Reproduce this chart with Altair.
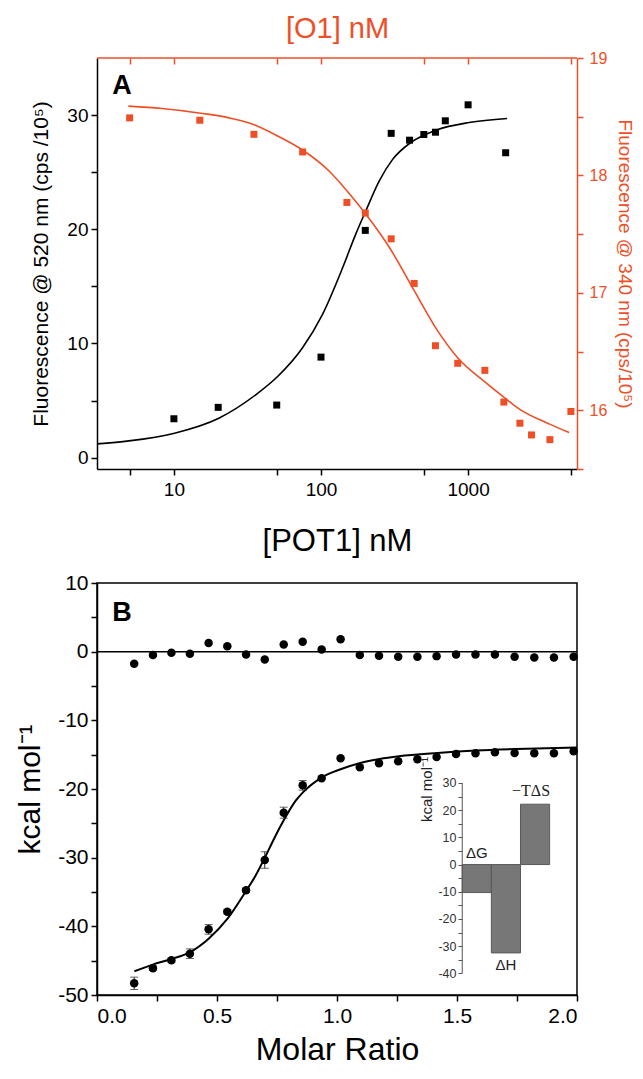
import altair as alt
import pandas as pd

RED = "#ef4f27"
BLACK = "#000000"
FONT = "Liberation Sans"

# ---------------- Panel A data ----------------
pot1_nM = [10, 20, 50, 100, 200, 300, 400, 500, 600, 700, 1000, 1800]
f520 = [3.4, 4.4, 4.6, 8.8, 19.9, 28.4, 27.8, 28.3, 28.5, 29.5, 30.9, 26.7]
fit520_x = [3.0, 4.94, 10.1, 20.2, 36, 50.7, 74.7, 102, 140, 172, 203, 248, 306, 408, 612, 1016, 1841]
fit520_y = [1.2, 1.46, 2.14, 3.45, 5.5, 7.1, 9.6, 12.5, 16.6, 19.55, 21.7, 24.2, 26.1, 27.6, 28.7, 29.35, 29.7]

o1_nM = [5, 15, 35, 75, 150, 200, 300, 430, 600, 850, 1300, 1750, 2250, 2700, 3600, 5000]
f340 = [18.49, 18.47, 18.35, 18.20, 17.77, 17.68, 17.46, 17.08, 16.55, 16.40, 16.34, 16.07, 15.89, 15.79, 15.75, 15.99]
fit340_x = [4.9, 8.3, 15.2, 23.7, 35.4, 51.8, 76.2, 113, 157, 202, 294, 434, 618, 846, 1306, 1758, 2234, 3614, 4860]
fit340_y = [18.59, 18.57, 18.53, 18.49, 18.43, 18.33, 18.21, 18.04, 17.84, 17.67, 17.38, 17.01, 16.68, 16.45, 16.24, 16.11, 16.01, 15.88, 15.81]

# ---------------- Panel B data ----------------
molar_ratio = [0.155, 0.233, 0.310, 0.387, 0.465, 0.543, 0.621, 0.699, 0.778, 0.857, 0.936, 1.015,
               1.095, 1.175, 1.255, 1.335, 1.415, 1.496, 1.577, 1.658, 1.740, 1.822, 1.904, 1.986]
blank_heat = [-1.75, -0.5, -0.15, -0.3, 1.25, 0.8, -0.4, -1.15, 1.05, 1.45, 0.3, 1.8,
              -0.5, -0.6, -0.75, -0.75, -0.65, -0.4, -0.4, -0.4, -0.75, -0.85, -0.85, -0.75]
heat = [-48.3, -46.1, -44.95, -43.98, -40.44, -37.86, -34.76, -30.34, -23.45, -19.47, -18.45, -15.53,
        -16.84, -16.26, -15.97, -15.68, -15.34, -14.9, -14.8, -14.66, -14.76, -14.8, -14.8, -14.5]
heat_err = [0.9, 0.3, 0.3, 0.7, 0.7, 0.3, 0.3, 1.2, 0.8, 0.7, 0.0, 0.0,
            0.0, 0.0, 0.0, 0.0, 0.0, 0.0, 0.0, 0.0, 0.0, 0.0, 0.0, 0.0]
fitB_x = [0.156, 0.232, 0.310, 0.386, 0.464, 0.543, 0.622, 0.661, 0.70, 0.744, 0.781, 0.828, 0.858,
          0.9375, 1.018, 1.097, 1.178, 1.258, 1.419, 1.58, 1.746, 2.0]
fitB_y = [-46.55, -45.58, -44.76, -43.79, -41.84, -38.93, -34.8, -32.6, -29.95, -26.8, -24.37, -21.7,
          -20.49, -18.3, -17.09, -16.21, -15.63, -15.24, -14.76, -14.4, -14.17, -13.95]

# inset (thermodynamic signature)
terms = ["ΔG", "ΔH", "−TΔS"]
energies = [-10.3, -32.5, 22.2]
label_side = ["above", "below", "above"]
label_serif = [False, False, True]

# ---------------- Panel A ----------------
dfb = pd.DataFrame({"conc": pot1_nM, "f": f520})
dfbfit = pd.DataFrame({"conc": fit520_x, "f": fit520_y})
dfr = pd.DataFrame({"conc": o1_nM, "f": f340})
dfrfit = pd.DataFrame({"conc": fit340_x, "f": fit340_y})

xA = alt.Scale(type="log", domain=[3, 5500])
yAb = alt.Scale(domain=[-1, 35], nice=False, zero=False)
yAr = alt.Scale(domain=[15.5, 19], nice=False, zero=False)

logvals = [5, 10, 50, 100, 500, 1000, 5000]
ax_bottom = alt.Axis(orient="bottom", values=logvals,
                     labelExpr="(datum.value == 10 || datum.value == 100 || datum.value == 1000) ? '' + datum.value : ''",
                     title="[POT1] nM", titleFontSize=31, labelFontSize=19, labelPadding=5, titlePadding=27,
                     domainColor=BLACK, tickColor=BLACK, labelColor=BLACK, titleColor=BLACK)
ax_left = alt.Axis(orient="left", values=[0, 5, 10, 15, 20, 25, 30],
                   labelExpr="datum.value % 10 == 0 ? '' + datum.value : ''",
                   title="Fluorescence @ 520 nm (cps /10⁵)", titleFontSize=21, labelFontSize=19,
                   titlePadding=15, domainColor=BLACK, tickColor=BLACK, labelColor=BLACK, titleColor=BLACK)
# top axis: ticks point into the plot (axis shifted inward, frame line drawn by a rule at the domain top)
ax_top = alt.Axis(orient="top", values=logvals, labels=False, title="[O1] nM", titleFontSize=29,
                  offset=-6, domain=False, titlePadding=14, tickColor=RED, titleColor=RED)
ax_right = alt.Axis(orient="right", values=[15.5, 16, 16.5, 17, 17.5, 18, 18.5, 19],
                    labelExpr="datum.value % 1 == 0 ? '' + datum.value : ''",
                    title="Fluorescence @ 340 nm (cps/10⁵)", titleFontSize=19, labelFontSize=16,
                    labelPadding=6, titlePadding=8,
                    domainColor=RED, tickColor=RED, labelColor=RED, titleColor=RED)

b_pts = alt.Chart(dfb).mark_square(size=49, color=BLACK, opacity=1).encode(
    x=alt.X("conc:Q", scale=xA, axis=ax_bottom), y=alt.Y("f:Q", scale=yAb, axis=ax_left))
b_fit = alt.Chart(dfbfit).mark_line(color=BLACK, strokeWidth=1.6, interpolate="monotone").encode(
    x=alt.X("conc:Q", scale=xA, axis=ax_bottom), y=alt.Y("f:Q", scale=yAb, axis=ax_left))
labA = alt.Chart(pd.DataFrame({"t": ["A"]})).mark_text(
    font=FONT, fontSize=27, fontWeight="bold", color=BLACK, align="center", baseline="middle").encode(
    x=alt.value(25), y=alt.value(28), text="t:N")

r_pts = alt.Chart(dfr).mark_square(size=49, color=RED, opacity=1).encode(
    x=alt.X("conc:Q", scale=xA, axis=ax_top), y=alt.Y("f:Q", scale=yAr, axis=ax_right))
r_fit = alt.Chart(dfrfit).mark_line(color=RED, strokeWidth=1.6, interpolate="monotone").encode(
    x=alt.X("conc:Q", scale=xA, axis=ax_top), y=alt.Y("f:Q", scale=yAr, axis=ax_right))
r_frame = alt.Chart(pd.DataFrame({"top": [19.0]})).mark_rule(color=RED, strokeWidth=1.5).encode(
    y=alt.Y("top:Q", scale=yAr, axis=ax_right))

panelA = alt.layer(
    alt.layer(b_fit, b_pts, labA),
    alt.layer(r_frame, r_fit, r_pts),
).resolve_scale(x="independent", y="independent").properties(
    width=480, height=411, view=alt.ViewBackground(stroke="transparent"))

# ---------------- Panel B ----------------
dfB = pd.DataFrame({"r": molar_ratio, "blank": blank_heat, "heat": heat, "err": heat_err})
dfB["lo"] = dfB["heat"] - dfB["err"]
dfB["hi"] = dfB["heat"] + dfB["err"]
dfE = dfB[dfB["err"] > 0]
dfBfit = pd.DataFrame({"r": fitB_x, "heat": fitB_y})

xB = alt.Scale(domain=[0, 2], nice=False)
yB = alt.Scale(domain=[-50, 10], nice=False)
ax_xB = alt.Axis(values=[0, 0.25, 0.5, 0.75, 1, 1.25, 1.5, 1.75, 2],
                 labelExpr="datum.value % 0.5 == 0 ? format(datum.value, '.1f') : ''",
                 title="Molar Ratio", titleFontSize=32, labelFontSize=21, labelPadding=4, titlePadding=8)
ax_yB = alt.Axis(values=list(range(-50, 11, 5)),
                 labelExpr="datum.value % 10 == 0 ? '' + datum.value : ''",
                 title="kcal mol⁻¹", titleFontSize=30, labelFontSize=21, titlePadding=12)

zero = alt.Chart(pd.DataFrame({"z": [0]})).mark_rule(color=BLACK, strokeWidth=1.5).encode(
    y=alt.Y("z:Q", scale=yB, axis=ax_yB))
blank_pts = alt.Chart(dfB).mark_circle(size=72, color=BLACK, opacity=1).encode(
    x=alt.X("r:Q", scale=xB, axis=ax_xB), y=alt.Y("blank:Q", scale=yB, axis=ax_yB))
err_rule = alt.Chart(dfE).mark_rule(color="#222", strokeWidth=1).encode(
    x=alt.X("r:Q", scale=xB, axis=ax_xB), y=alt.Y("lo:Q", scale=yB, axis=ax_yB), y2="hi:Q")
err_lo = alt.Chart(dfE).mark_tick(color="#222", orient="horizontal", size=8, thickness=1).encode(
    x=alt.X("r:Q", scale=xB, axis=ax_xB), y=alt.Y("lo:Q", scale=yB, axis=ax_yB))
err_hi = alt.Chart(dfE).mark_tick(color="#222", orient="horizontal", size=8, thickness=1).encode(
    x=alt.X("r:Q", scale=xB, axis=ax_xB), y=alt.Y("hi:Q", scale=yB, axis=ax_yB))
heat_pts = alt.Chart(dfB).mark_circle(size=72, color=BLACK, opacity=1).encode(
    x=alt.X("r:Q", scale=xB, axis=ax_xB), y=alt.Y("heat:Q", scale=yB, axis=ax_yB))
fitB = alt.Chart(dfBfit).mark_line(color=BLACK, strokeWidth=2, interpolate="monotone").encode(
    x=alt.X("r:Q", scale=xB, axis=ax_xB), y=alt.Y("heat:Q", scale=yB, axis=ax_yB))
labB = alt.Chart(pd.DataFrame({"t": ["B"]})).mark_text(
    font=FONT, fontSize=27, fontWeight="bold", color=BLACK, align="center", baseline="middle").encode(
    x=alt.value(25), y=alt.value(30), text="t:N")

mainB = alt.layer(zero, blank_pts, fitB, err_rule, err_lo, err_hi, heat_pts, labB)

# inset bar chart drawn in its own scales
dfI = pd.DataFrame({"term": terms, "kcal": energies, "side": label_side, "serif": label_serif})
dfI["i"] = range(len(terms))
dfI["i2"] = dfI["i"] + 1
dfI["ic"] = dfI["i"] + 0.5
dfI["zero"] = 0.0
dfI["ly"] = [max(v, 0) if s == "above" else v for v, s in zip(dfI["kcal"], dfI["side"])]

xI = alt.Scale(domain=[-12.54, 3.94], nice=False, zero=False)
yI = alt.Scale(domain=[-47.98, 103.56], nice=False, zero=False)
ax_yI = alt.Axis(orient="left", offset=-365, values=list(range(-40, 31, 5)), domain=False,
                 labelExpr="datum.value % 10 == 0 ? '' + datum.value : ''",
                 tickSize=4, tickWidth=1, tickColor="#555", labelColor="#333", labelFontSize=12.5,
                 labelPadding=2, title="kcal mol⁻¹", titleFontSize=15, titlePadding=3, titleColor="#222")

bars = alt.Chart(dfI).mark_rect(color="#777777", stroke="#5a5a5a", strokeWidth=1).encode(
    x=alt.X("i:Q", scale=xI, axis=None), x2="i2:Q",
    y=alt.Y("kcal:Q", scale=yI, axis=ax_yI), y2="zero:Q")
axis_df = pd.DataFrame({"zero": [0.0], "lo": [-40.0], "hi": [30.0]})
inset_axis = alt.Chart(axis_df).mark_rule(color="#555", strokeWidth=1).encode(
    x=alt.X("zero:Q", scale=xI, axis=None),
    y=alt.Y("lo:Q", scale=yI, axis=ax_yI), y2="hi:Q")

df_sans_above = dfI[(dfI["side"] == "above") & (~dfI["serif"])]
df_serif_above = dfI[(dfI["side"] == "above") & (dfI["serif"])]
df_below = dfI[dfI["side"] == "below"]

lab_sans = alt.Chart(df_sans_above).mark_text(
    font=FONT, fontSize=15, color="#222", baseline="bottom", dy=-4).encode(
    x=alt.X("ic:Q", scale=xI, axis=None), y=alt.Y("ly:Q", scale=yI, axis=ax_yI), text="term:N")
lab_serif = alt.Chart(df_serif_above).mark_text(
    font="Liberation Serif", fontSize=16, color="#222", baseline="bottom", dy=-5, dx=-4).encode(
    x=alt.X("ic:Q", scale=xI, axis=None), y=alt.Y("ly:Q", scale=yI, axis=ax_yI), text="term:N")
lab_below = alt.Chart(df_below).mark_text(
    font=FONT, fontSize=15, color="#222", baseline="top", dy=5).encode(
    x=alt.X("ic:Q", scale=xI, axis=None), y=alt.Y("ly:Q", scale=yI, axis=ax_yI), text="term:N")

insetB = alt.layer(bars, inset_axis, lab_sans, lab_serif, lab_below)

panelB = alt.layer(mainB, insetB).resolve_scale(x="independent", y="independent").properties(
    width=480, height=412, view=alt.ViewBackground(stroke=BLACK, strokeWidth=1.5))

chart = alt.vconcat(panelA, panelB, spacing=14).properties(
    padding={"left": 6, "top": 5, "right": 0, "bottom": 2}
).configure_axis(
    labelFont=FONT, titleFont=FONT, titleFontWeight="normal", grid=False,
    domainWidth=1.5, tickWidth=1.5, tickSize=6, labelPadding=3,
    domainColor=BLACK, tickColor=BLACK, labelColor=BLACK, titleColor=BLACK
).configure_view(stroke="transparent")

chart.save("out.html", embed_options={"renderer": "svg", "actions": False})
